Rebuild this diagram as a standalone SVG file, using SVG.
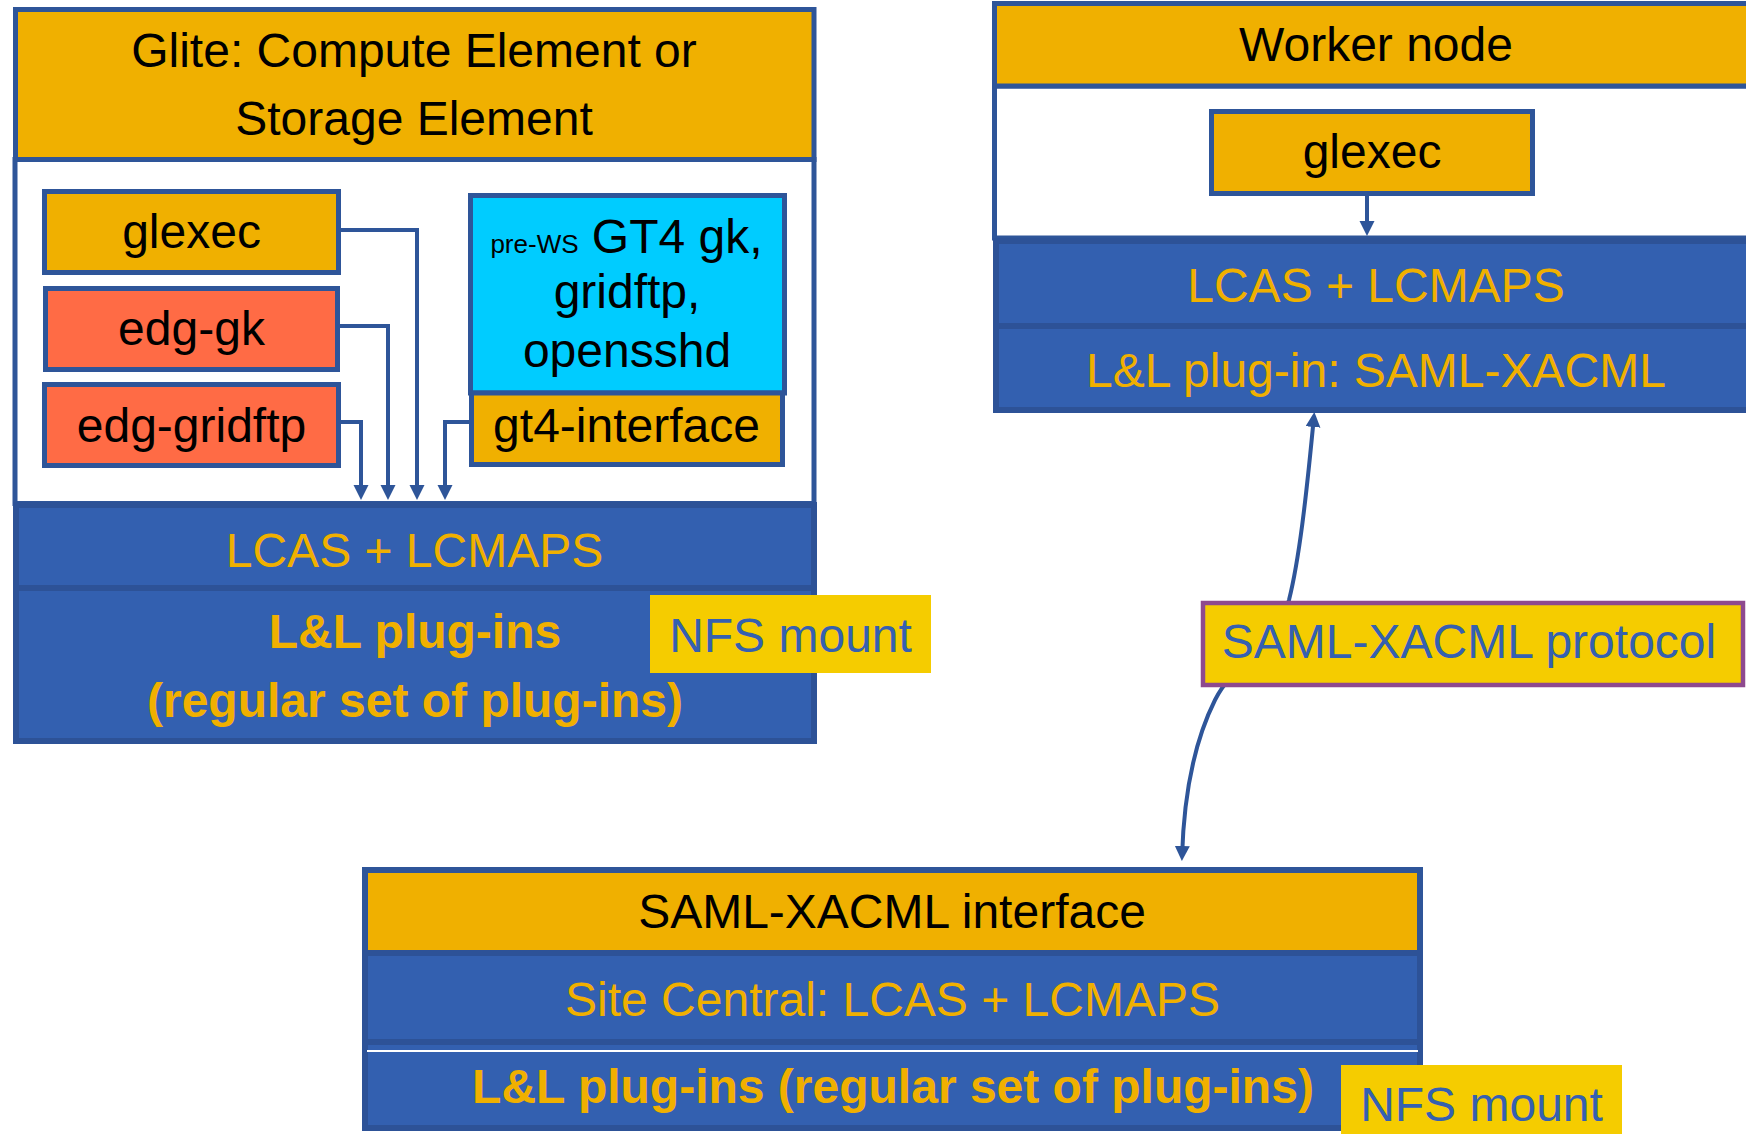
<svg xmlns="http://www.w3.org/2000/svg" width="1746" height="1134" viewBox="0 0 1746 1134">
<defs>
<style>
text{font-family:"Liberation Sans",Arial,sans-serif;font-size:48px;text-anchor:middle}
.org{fill:#F0B000;stroke:#2E5599;stroke-width:5}
.red{fill:#FF6B45;stroke:#2E5599;stroke-width:5}
.cyan{fill:#00CCFF;stroke:#2E5599;stroke-width:5}
.white{fill:#FFFFFF;stroke:#2E5599;stroke-width:5}
.bar{fill:#3360B0;stroke:#2D5297;stroke-width:6}
.nfs{fill:#F5CC00}
.blk{fill:#000000}
.otx{fill:#F0B000}
.btx{fill:#3560B0}
.bold{font-weight:bold;font-size:48px}
.conn{fill:none;stroke:#2E5599;stroke-width:4}
</style>
<marker id="arr" markerUnits="userSpaceOnUse" markerWidth="16" markerHeight="16" refX="2" refY="7.5" orient="auto-start-reverse" viewBox="0 0 16 16">
<path d="M0,0 L15,7.5 L0,15 z" fill="#2E5599"/>
</marker>
<marker id="arr2" markerUnits="userSpaceOnUse" markerWidth="16" markerHeight="16" refX="11" refY="7.5" orient="auto-start-reverse" viewBox="0 0 16 16">
<path d="M0,0 L15,7.5 L0,15 z" fill="#2E5599"/>
</marker>
</defs>
<rect width="1746" height="1134" fill="#FFFFFF"/>

<g id="ce-element">
<rect class="white" x="15" y="159.5" width="799" height="344"/>
<rect class="org" x="15.5" y="9.5" width="798.5" height="150"/>
<text class="blk" x="414" y="67">Glite: Compute Element or</text>
<text class="blk" x="414" y="135">Storage Element</text>
</g>

<g id="ce-glexec">
<rect class="org" x="44.5" y="191.5" width="294" height="81"/>
<text class="blk" x="191.5" y="248">glexec</text>
</g>

<g id="ce-edg-gk">
<rect class="red" x="45.5" y="288.5" width="292" height="81"/>
<text class="blk" x="191.5" y="345">edg-gk</text>
</g>

<g id="ce-edg-gridftp">
<rect class="red" x="44.5" y="384.5" width="294" height="81"/>
<text class="blk" x="191.5" y="442">edg-gridftp</text>
</g>

<g id="ce-gt4">
<rect class="cyan" x="470.5" y="195.5" width="314" height="197.5"/>
<text class="blk" x="626.5" y="253"><tspan font-size="26">pre-WS</tspan> GT4 gk,</text>
<text class="blk" x="627" y="308">gridftp,</text>
<text class="blk" x="627" y="367">opensshd</text>
</g>

<g id="ce-gt4-interface">
<rect class="org" x="471.5" y="393" width="311" height="71.5"/>
<text class="blk" x="626.5" y="442">gt4-interface</text>
</g>

<g id="ce-lcas">
<rect class="bar" x="16" y="505" width="798" height="83"/>
<text class="otx" x="414.5" y="567">LCAS + LCMAPS</text>
</g>

<g id="ce-plugins">
<rect class="bar" x="16" y="588" width="798" height="153"/>
<text class="otx bold" x="415" y="648">L&amp;L plug-ins</text>
<text class="otx bold" x="415" y="717">(regular set of plug-ins)</text>
</g>

<g id="ce-nfs">
<rect class="nfs" x="650" y="595" width="281" height="78"/>
<text class="btx" x="790.5" y="652">NFS mount</text>
</g>

<g id="wn-element">
<rect class="white" x="994.5" y="86" width="770" height="152"/>
<rect class="org" x="994.5" y="3.5" width="770" height="82.5"/>
<text class="blk" x="1376" y="61">Worker node</text>
</g>

<g id="wn-glexec">
<rect class="org" x="1211.5" y="111.5" width="321" height="82"/>
<text class="blk" x="1372" y="168">glexec</text>
</g>

<g id="wn-lcas">
<rect class="bar" x="996" y="241" width="770" height="85"/>
<text class="otx" x="1376" y="302">LCAS + LCMAPS</text>
</g>

<g id="wn-plugin">
<rect class="bar" x="996" y="326" width="770" height="84"/>
<text class="otx" x="1376" y="387">L&amp;L plug-in: SAML-XACML</text>
</g>

<g id="sc-interface">
<rect class="org" x="365" y="870" width="1055" height="83" style="stroke-width:6"/>
<text class="blk" x="892" y="928">SAML-XACML interface</text>
</g>

<g id="sc-lcas">
<rect class="bar" x="365" y="953" width="1055" height="89"/>
<text class="otx" x="892.5" y="1016">Site Central: LCAS + LCMAPS</text>
</g>

<g id="sc-plugins">
<rect class="bar" x="365" y="1042" width="1055" height="86"/>
<line x1="367" y1="1051" x2="1418" y2="1051" stroke="#FFFFFF" stroke-width="2"/>
<text class="otx bold" x="893" y="1103">L&amp;L plug-ins (regular set of plug-ins)</text>
</g>

<g id="sc-nfs">
<rect class="nfs" x="1341" y="1065" width="281" height="75"/>
<text class="btx" x="1481.5" y="1121">NFS mount</text>
</g>

<g id="connectors">
<path class="conn" d="M338.5,230 H417 V487" marker-end="url(#arr)"/>
<path class="conn" d="M337.5,326 H388 V487" marker-end="url(#arr)"/>
<path class="conn" d="M338.5,422 H361 V487" marker-end="url(#arr)"/>
<path class="conn" d="M471.5,422 H445 V487" marker-end="url(#arr)"/>
<path class="conn" d="M1367,196 V223" marker-end="url(#arr)"/>
<path class="conn" d="M1314,416 C1306,500 1299,560 1289,600 C1275,650 1235,660 1215,700 C1195,740 1184,790 1182,857" marker-start="url(#arr2)" marker-end="url(#arr2)"/>
</g>

<g id="protocol-label">
<rect x="1203" y="603" width="540" height="82" fill="#F5CC00" stroke="#8E4A8E" stroke-width="4.5"/>
<text class="btx" x="1469" y="658">SAML-XACML protocol</text>
</g>
</svg>
